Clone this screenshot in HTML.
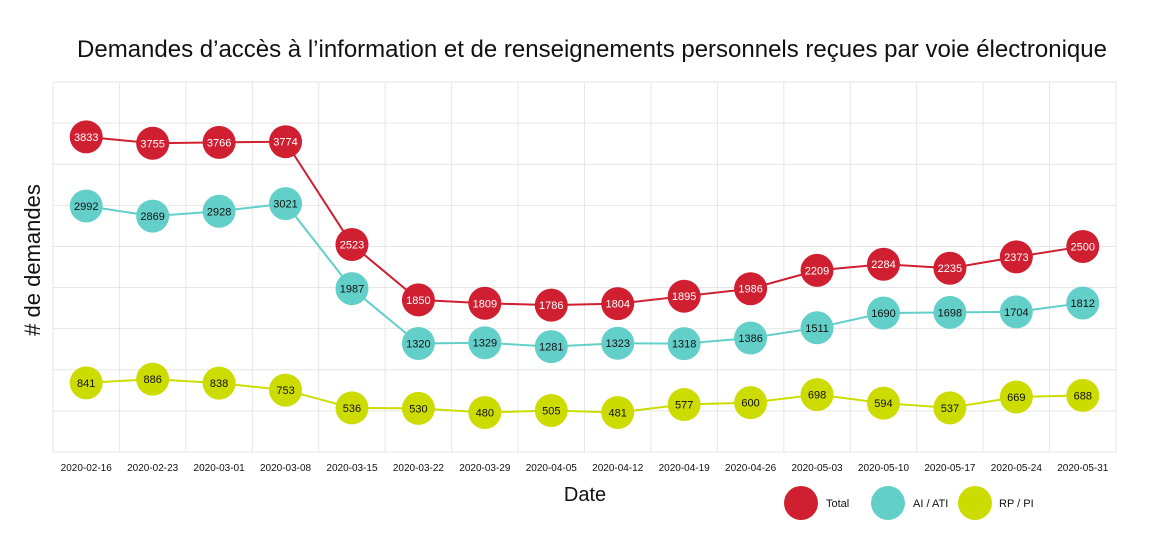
<!DOCTYPE html>
<html><head><meta charset="utf-8"><style>
body{margin:0;background:#fff;font-family:"Liberation Sans","DejaVu Sans",sans-serif;}
svg text{font-family:"Liberation Sans","DejaVu Sans",sans-serif;}
</style></head><body>
<svg id="chart" width="1150" height="555" xmlns="http://www.w3.org/2000/svg">
<text x="592" y="57" text-anchor="middle" font-size="24" fill="#111">Demandes d’accès à l’information et de renseignements personnels reçues par voie électronique</text>
<text transform="translate(40,260) rotate(-90)" text-anchor="middle" font-size="22" fill="#111"># de demandes</text>
<text x="585" y="501" text-anchor="middle" font-size="20" fill="#111">Date</text>
<g id="grid"></g><g id="xlabels"></g><g id="series"></g>
<g>
<circle cx="801" cy="503" r="17" fill="#cf1f30"/>
<text x="826" y="507" font-size="11" fill="#111">Total</text>
<circle cx="888" cy="503" r="17" fill="#63cfc9"/>
<text x="913" y="507" font-size="11" fill="#111">AI / ATI</text>
<circle cx="975" cy="503" r="17" fill="#cddc00"/>
<text x="999" y="507" font-size="11" fill="#111">RP / PI</text>
</g>
</svg>
<script>
const dates=["2020-02-16","2020-02-23","2020-03-01","2020-03-08","2020-03-15","2020-03-22","2020-03-29","2020-04-05","2020-04-12","2020-04-19","2020-04-26","2020-05-03","2020-05-10","2020-05-17","2020-05-24","2020-05-31"];
const totalVals=[3833,3755,3766,3774,2523,1850,1809,1786,1804,1895,1986,2209,2284,2235,2373,2500];
const aiVals=[2992,2869,2928,3021,1987,1320,1329,1281,1323,1318,1386,1511,1690,1698,1704,1812];
const rpVals=[841,886,838,753,536,530,480,505,481,577,600,698,594,537,669,688];
const yTicks=[0,500,1000,1500,2000,2500,3000,3500,4000,4500];
const NS="http://www.w3.org/2000/svg";
const L=53,R=1116,T=82,B=452,YMAX=4500;
const bw=(R-L)/dates.length;
const x=i=>L+bw*(i+0.5);
const y=v=>B-(v/YMAX)*(B-T);
function mk(tag,at,parent){const e=document.createElementNS(NS,tag);for(const k in at)e.setAttribute(k,at[k]);parent.appendChild(e);return e;}
const grid=document.getElementById('grid');
yTicks.forEach(t=>{const l=mk('line',{x1:L,x2:R,y1:y(t),y2:y(t),stroke:'#e6e6e6','stroke-width':1},grid);

});
for(let i=0;i<=dates.length;i++){const l=mk('line',{x1:L+bw*i,x2:L+bw*i,y1:T,y2:B,stroke:'#e6e6e6','stroke-width':1},grid);

}
const xl=document.getElementById('xlabels');
dates.forEach((d,i)=>{const t=mk('text',{x:x(i),y:471,'text-anchor':'middle','font-size':10,fill:'#111'},xl);t.textContent=d;

});
const sg=document.getElementById('series');
[[totalVals,'#cf1f30','#fff','total'],[aiVals,'#63cfc9','#111','ai-ati'],[rpVals,'#cddc00','#111','rp-pi']].forEach(([vals,col,tc,nm])=>{
const p=mk('polyline',{points:vals.map((v,i)=>x(i)+','+y(v)).join(' '),fill:'none',stroke:col,'stroke-width':2},sg);


vals.forEach((v,i)=>{const c=mk('circle',{cx:x(i),cy:y(v),r:16.5,fill:col},sg);


const t=mk('text',{x:x(i),y:y(v)+4,'text-anchor':'middle','font-size':11,fill:tc},sg);t.textContent=v;

});
});
</script>
</body></html>
